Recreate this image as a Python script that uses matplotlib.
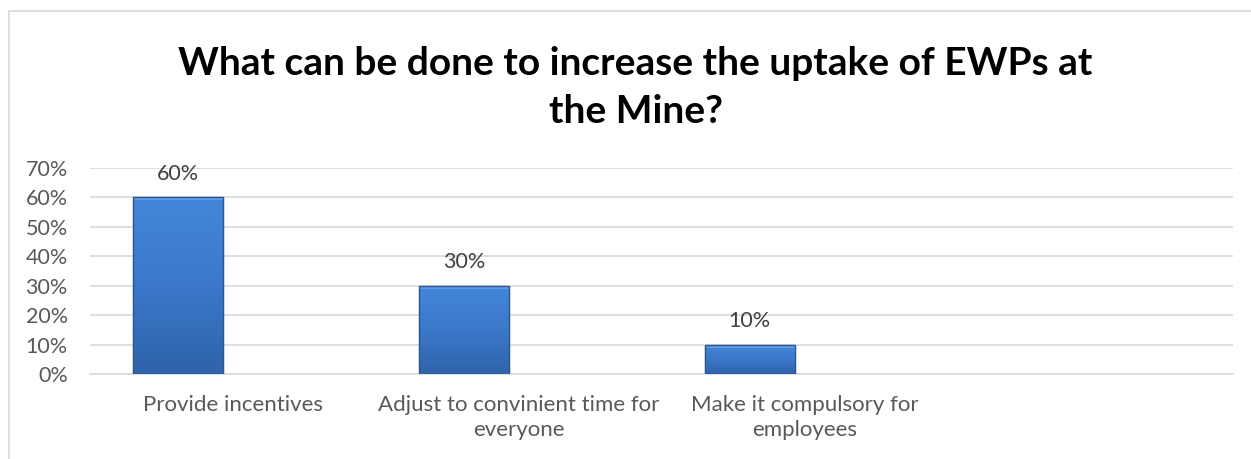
import numpy as np
import matplotlib.pyplot as plt
from matplotlib.colors import LinearSegmentedColormap
from matplotlib.patches import Rectangle

# Chart data
categories = ['Provide incentives', 'Adjust to convinient time for\neveryone',
              'Make it compulsory for\nemployees']
values = [60, 30, 10]
yticks = [0, 10, 20, 30, 40, 50, 60, 70]
title = 'What can be done to increase the uptake of EWPs at\nthe Mine?'

plt.rcParams['font.family'] = ['Lato', 'DejaVu Sans']

fig = plt.figure(figsize=(12.51, 4.59), dpi=100)
ax = fig.add_axes([0.072, 0.185, 0.914, 0.449])

x = np.arange(len(categories))
# bars sit left of the category centre (clustered layout, other series empty)
bars = ax.bar(x - 0.192, values, width=0.314, color='#3a76c8', edgecolor='#28558f',
              linewidth=0.8, zorder=3)

# vertical gradient + bevel look on each bar
cmap = LinearSegmentedColormap.from_list('b', ['#4387da', '#3b78ca', '#2f63aa'])
grad = np.linspace(0, 1, 256).reshape(-1, 1)
for b in bars:
    x0, y0 = b.get_x(), b.get_y()
    w, h = b.get_width(), b.get_height()
    im = ax.imshow(grad, cmap=cmap, aspect='auto', extent=[x0, x0 + w, y0, y0 + h],
                   origin='upper', zorder=3.1, interpolation='bicubic')
    im.set_clip_path(b)
    ax.add_patch(Rectangle((x0, y0 + h - 1.0), w, 1.0, facecolor='#6aa3ea',
                           edgecolor='none', zorder=3.2, alpha=0.8))
    ax.add_patch(Rectangle((x0, y0), w, h, facecolor='none', edgecolor='#2a5794',
                           linewidth=1.0, zorder=3.3))
    ax.annotate(f'{int(h)}%', (x0 + w / 2, h), xytext=(0, 17), textcoords='offset points',
                ha='center', va='center', fontsize=15.5, color='#404040')

ax.set_xlim(-0.5, 3.5)
ax.set_ylim(0, 70)
ax.set_yticks(yticks)
ax.set_yticklabels([f'{t}%' for t in yticks], fontsize=15.5, color='#595959')
ax.set_xticks(x)
ax.set_xticklabels(categories, fontsize=16, color='#595959', linespacing=1.3)
ax.tick_params(axis='both', length=0)
ax.tick_params(axis='y', pad=16)
ax.tick_params(axis='x', pad=15)
ax.grid(axis='y', color='#d9d9d9', linewidth=1.2, zorder=0)
for s in ['top', 'right', 'left']:
    ax.spines[s].set_visible(False)
ax.spines['bottom'].set_color('#d9d9d9')
ax.spines['bottom'].set_linewidth(1.2)

fig.text(0.508, 0.9, title, ha='center', va='top', fontsize=28,
         fontweight='bold', color='black', linespacing=1.45)

# chart area border
fig.add_artist(Rectangle((9 / 1251, -0.1), 1.2, 1 - 11 / 459 + 0.1, transform=fig.transFigure,
                         facecolor='none', edgecolor='#d9d9d9', linewidth=1.2))

fig.savefig('out.png', dpi=100)
